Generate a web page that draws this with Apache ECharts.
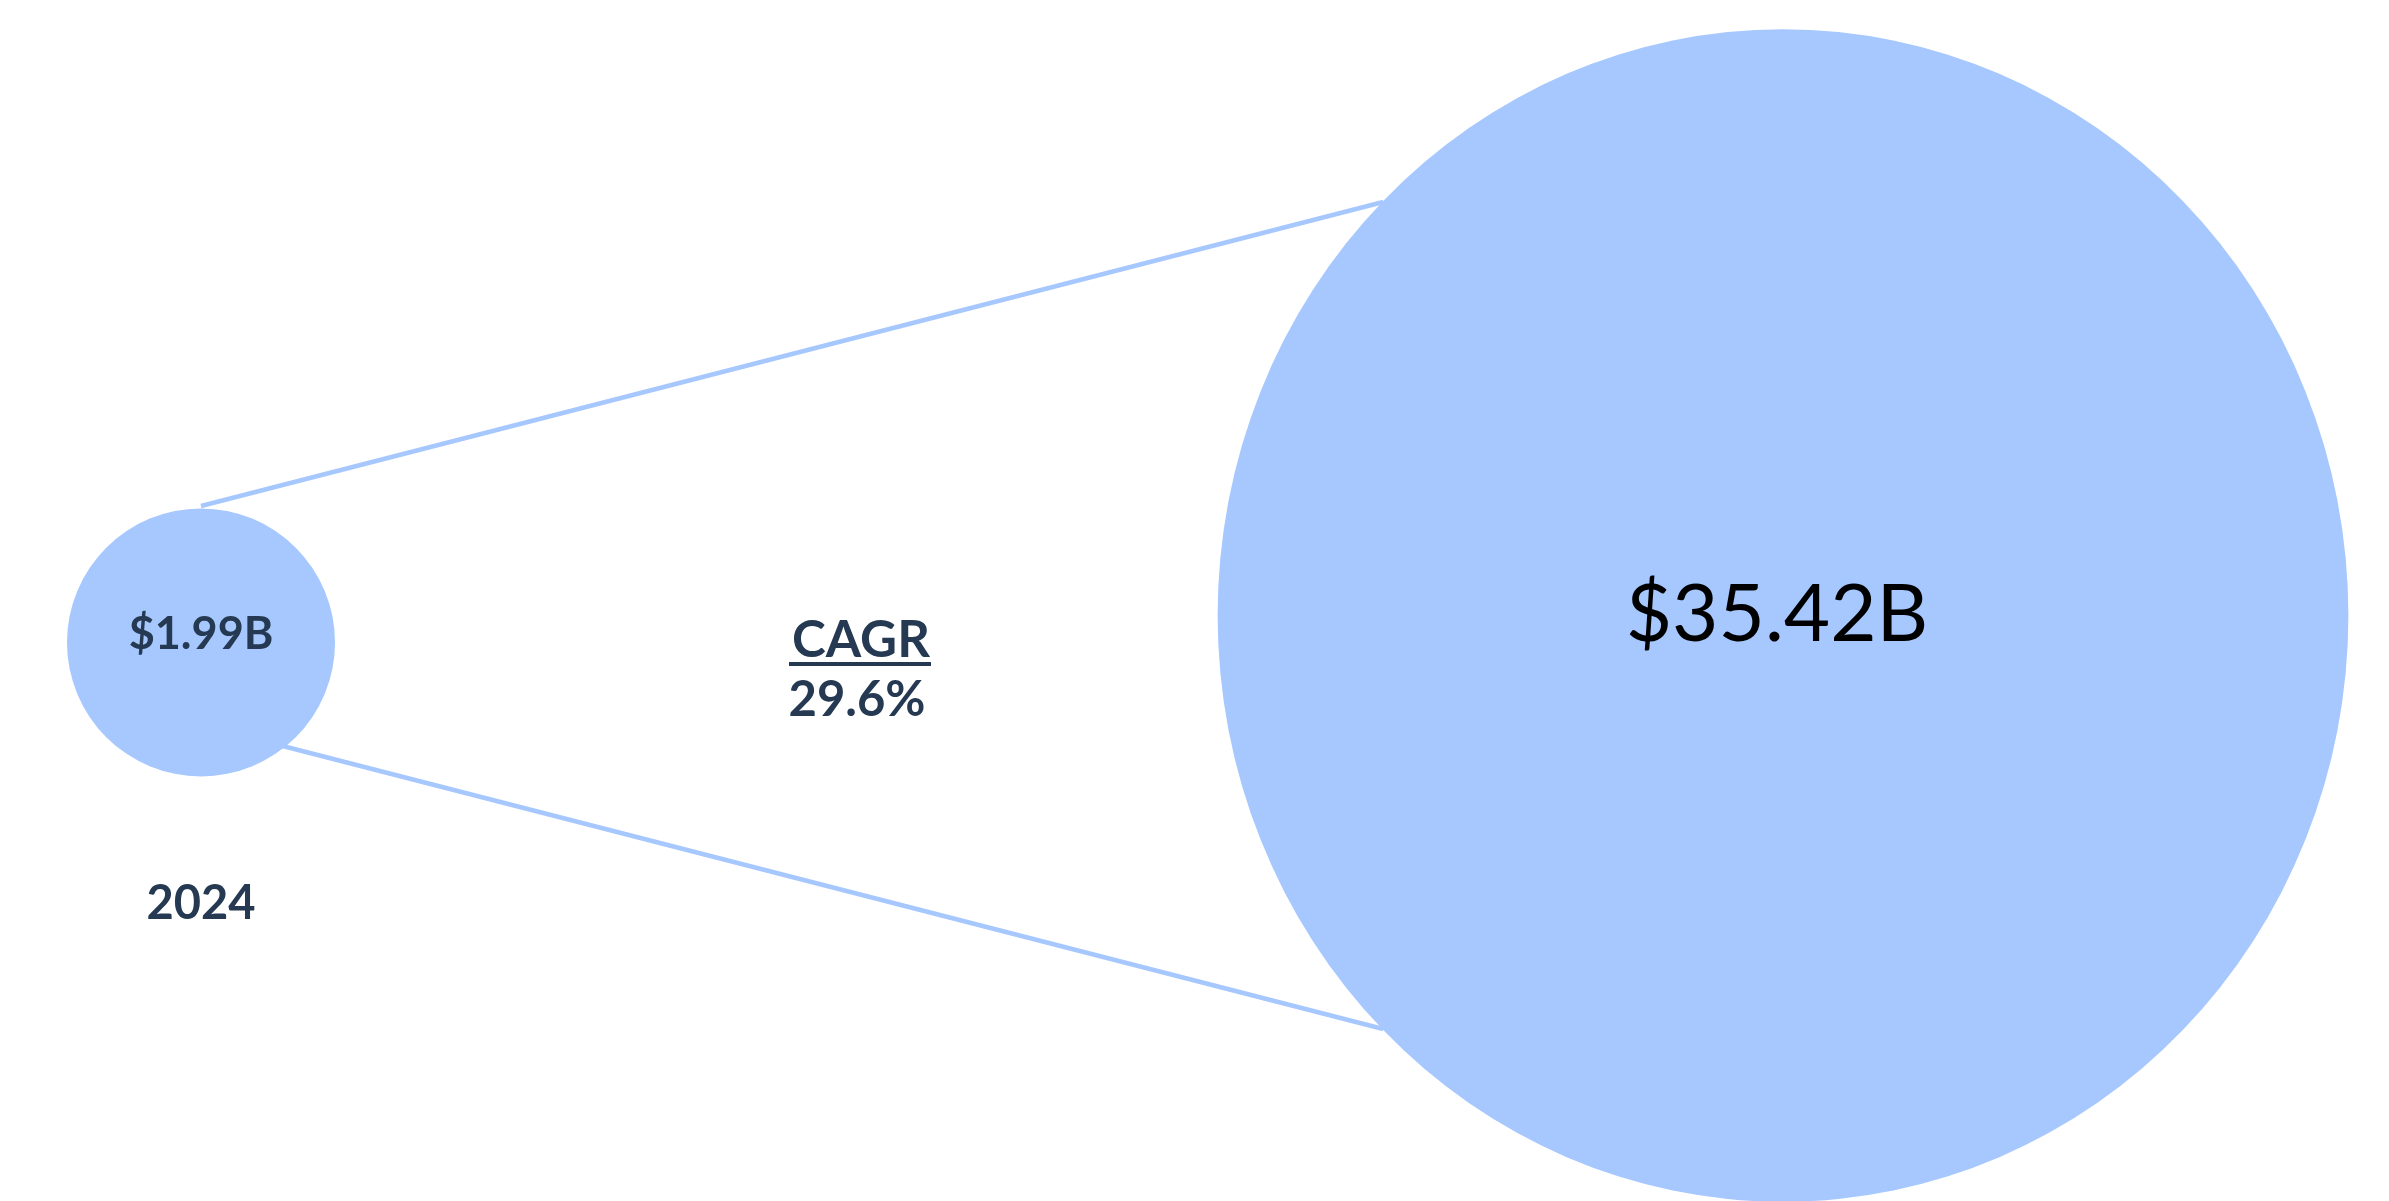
<!DOCTYPE html>
<html>
<head>
<meta charset="utf-8">
<script src="https://cdn.jsdelivr.net/npm/echarts@6/dist/echarts.min.js"></script>
<style>
  html, body { margin: 0; padding: 0; background: #fff; }
  #main { width: 2389px; height: 1201px; }
</style>
</head>
<body>
<div id="main"></div>
<script>
var years = ['2024', '2035'];
var values = [1.99, 35.42];
var valueLabels = ['$1.99B', '$35.42B'];
var xPos = [0, 1];
var yPos = [-0.046, 0];
var cagrText = 'CAGR';
var cagrValue = '29.6%';

var fill = '#a6c8fe';
var navy = '#253a52';
var sizeK = 190;          // px of diameter per sqrt(value)
var aspect = [1, 1.037];  // the big bubble is a touch taller than wide

var gridLeft = 201, gridRight = 606, gridTop = 30, gridBottom = -3;
var gridW = 2389 - gridLeft - gridRight;
var gridH = 1201 - gridTop - gridBottom;

function diam(v, i) {
  var d = sizeK * Math.sqrt(v);
  return [d, d * aspect[i]];
}

// connector lines: from the small bubble to the edge of the big one at 45 deg
var bigSize = diam(values[1], 1);
var rx = (bigSize[0] / 2) / gridW;
var ry = (bigSize[1] / 2) / (gridH / 2);
var spread = 0.187;
var endX = xPos[1] - rx * Math.cos(Math.PI / 4);
var endDy = ry * Math.sin(Math.PI / 4);
var upper = [[xPos[0], yPos[1] + spread], [endX, yPos[1] + endDy]];
var lower = [[xPos[0], yPos[1] - spread], [endX, yPos[1] - endDy]];

var bubbles = values.map(function (v, i) {
  return {
    value: [xPos[i], yPos[i]],
    symbolSize: diam(v, i),
    label: {
      formatter: valueLabels[i],
      fontSize: i === 0 ? 45 : 80,
      fontWeight: i === 0 ? 'bold' : 'normal',
      color: i === 0 ? navy : '#000',
      offset: i === 0 ? [0, -8] : [-6, 0]
    }
  };
});

var yearMarks = values.map(function (v, i) {
  return {
    value: [xPos[i], yPos[i]],
    symbolSize: diam(v, i),
    label: { formatter: years[i] }
  };
});

var chart = echarts.init(document.getElementById('main'));
chart.setOption({
  animation: false,
  backgroundColor: '#fff',
  grid: { left: gridLeft, right: gridRight, top: gridTop, bottom: gridBottom },
  xAxis: { type: 'value', min: 0, max: 1, show: false },
  yAxis: { type: 'value', min: -1, max: 1, show: false },
  series: [
    {
      type: 'line', data: upper, symbol: 'none', z: 1, silent: true,
      lineStyle: { color: fill, width: 4.5 }
    },
    {
      type: 'line', data: lower, symbol: 'none', z: 1, silent: true,
      lineStyle: { color: fill, width: 4.5 }
    },
    {
      type: 'scatter', z: 3, symbol: 'circle',
      itemStyle: { color: fill, opacity: 1 },
      label: { show: true, position: 'inside', fontFamily: 'Lato' },
      data: bubbles
    },
    {
      type: 'scatter', z: 4, symbol: 'circle', silent: true,
      itemStyle: { color: 'rgba(0,0,0,0)', opacity: 1 },
      labelLayout: { hideOverlap: false },
      label: {
        show: true, position: 'bottom', distance: 104, opacity: 1,
        fontFamily: 'Lato', fontSize: 47, fontWeight: 'bold', color: navy
      },
      data: yearMarks
    }
  ],
  graphic: [
    {
      type: 'text',
      style: {
        x: 861, y: 641, text: cagrText, fill: navy,
        font: 'bold 51px Lato', align: 'center', verticalAlign: 'middle'
      }
    },
    {
      type: 'line',
      shape: { x1: 789, y1: 664, x2: 931, y2: 664 },
      style: { stroke: navy, lineWidth: 4 }
    },
    {
      type: 'text',
      style: {
        x: 857, y: 700, text: cagrValue, fill: navy,
        font: 'bold 49px Lato', align: 'center', verticalAlign: 'middle'
      }
    }
  ]
});
</script>
</body>
</html>
